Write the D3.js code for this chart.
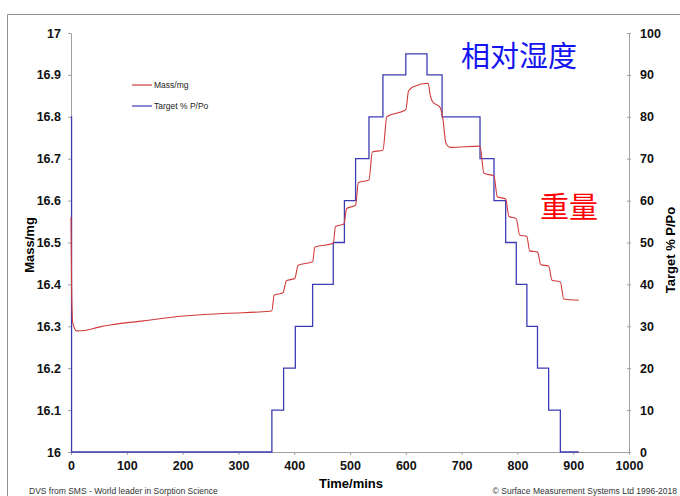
<!DOCTYPE html>
<html>
<head>
<meta charset="utf-8">
<script src="https://cdn.jsdelivr.net/npm/d3@7"></script>
<style>
  body { margin: 0; background: #fff; }
  svg { display: block; }
  .tick text { font-family: "Liberation Sans", Arial, sans-serif; font-weight: bold; font-size: 12.5px; fill: #111; }
  .axis path, .axis line { stroke: #a0a0a0; }
</style>
</head>
<body>
<div id="chart"></div>
<script>
// mass reading, mg (time in minutes)
var massTimes = [0, 1, 3, 10, 25, 50, 70, 130, 195, 280, 356, 360, 364, 380, 386, 401, 407, 433, 437, 470, 474, 489, 494, 510, 515, 534, 540, 559, 566, 600, 605, 614, 640, 644, 648, 661, 666, 672, 680, 733, 740, 758, 764, 779, 785, 798, 804, 817, 822, 836, 842, 856, 862, 877, 883, 910];
var massValues = [16.56, 16.40, 16.31, 16.289, 16.290, 16.298, 16.303, 16.313, 16.324, 16.331, 16.336, 16.337, 16.374, 16.380, 16.409, 16.414, 16.446, 16.454, 16.489, 16.498, 16.538, 16.544, 16.581, 16.589, 16.643, 16.649, 16.716, 16.720, 16.800, 16.817, 16.862, 16.872, 16.880, 16.850, 16.836, 16.823, 16.800, 16.737, 16.727, 16.730, 16.665, 16.659, 16.609, 16.604, 16.562, 16.557, 16.518, 16.514, 16.480, 16.477, 16.447, 16.444, 16.410, 16.406, 16.365, 16.362];

// target RH steps, % P/Po (value holds from each time to the next)
var rhTimes = [0, 1, 360, 381, 402, 433, 470, 490, 510, 534, 559, 600, 638, 665, 733, 758, 779, 798, 817, 836, 856, 877, 910];
var rhValues = [80, 0, 10, 20, 30, 40, 50, 60, 70, 80, 90, 95, 90, 80, 70, 60, 50, 40, 30, 20, 10, 0, 0];

var massTicks = [16, 16.1, 16.2, 16.3, 16.4, 16.5, 16.6, 16.7, 16.8, 16.9, 17];
var rhTicks = [0, 10, 20, 30, 40, 50, 60, 70, 80, 90, 100];
var timeTicks = [0, 100, 200, 300, 400, 500, 600, 700, 800, 900, 1000];

var svgWidth = 680, svgHeight = 496;
var margin = { top: 33, bottom: 44, left: 71, right: 51 };
var width = svgWidth - margin.left - margin.right;
var height = svgHeight - margin.top - margin.bottom;

var svg = d3.select("#chart").append("svg")
    .attr("width", svgWidth)
    .attr("height", svgHeight);

// outer frame (cut off at right/bottom)
svg.append("path")
    .attr("d", "M7.5,496 V14.5 H680")
    .attr("fill", "none")
    .attr("stroke", "#909090")
    .attr("stroke-width", 1);

var chartGroup = svg.append("g")
    .attr("transform", `translate(${margin.left}, ${margin.top})`);

var x = d3.scaleLinear().domain([0, 1000]).range([0, width]);
var yMass = d3.scaleLinear().domain([16, 17]).range([height, 0]);
var yRh = d3.scaleLinear().domain([0, 100]).range([height, 0]);

chartGroup.append("g")
    .attr("class", "axis")
    .attr("transform", `translate(0, ${height})`)
    .call(d3.axisBottom(x).tickValues(timeTicks).tickSize(3).tickSizeOuter(0).tickPadding(6).tickFormat(d3.format("d")));

chartGroup.append("g")
    .attr("class", "axis")
    .call(d3.axisLeft(yMass).tickValues(massTicks).tickSize(3).tickSizeOuter(0).tickPadding(7).tickFormat(d => +d.toFixed(1)));

var rightAxis = chartGroup.append("g")
    .attr("class", "axis")
    .attr("transform", `translate(${width}, 0)`)
    .call(d3.axisRight(yRh).tickValues(rhTicks).tickSize(2).tickSizeOuter(0).tickPadding(9));
rightAxis.selectAll(".tick line").attr("x1", -2);

// series
var massData = massTimes.map((t, i) => ({ t: t, v: massValues[i] }));
var rhData = rhTimes.map((t, i) => ({ t: t, v: rhValues[i] }));

chartGroup.append("path")
    .datum(rhData)
    .attr("fill", "none")
    .attr("stroke", "#3c3cb4")
    .attr("stroke-width", 1.3)
    .attr("d", d3.line().x(d => x(d.t)).y(d => yRh(d.v)).curve(d3.curveStepAfter));

chartGroup.append("path")
    .datum(massData)
    .attr("fill", "none")
    .attr("stroke", "#d23a3a")
    .attr("stroke-width", 1.1)
    .attr("d", d3.line().x(d => x(d.t)).y(d => yMass(d.v)).curve(d3.curveMonotoneX));

// axis titles
var titleFont = '"Liberation Sans", Arial, sans-serif';
svg.append("text")
    .attr("transform", "translate(34, 245) rotate(-90)")
    .attr("text-anchor", "middle")
    .style("font-family", titleFont).style("font-weight", "bold").style("font-size", "13px")
    .text("Mass/mg");

svg.append("text")
    .attr("transform", "translate(675, 250) rotate(-90)")
    .attr("text-anchor", "middle")
    .style("font-family", titleFont).style("font-weight", "bold").style("font-size", "13px")
    .text("Target % P/Po");

svg.append("text")
    .attr("x", 351).attr("y", 488)
    .attr("text-anchor", "middle")
    .style("font-family", titleFont).style("font-weight", "bold").style("font-size", "13px")
    .text("Time/mins");

// legend
var legend = [{ name: "Mass/mg", color: "#d23a3a", y: 85 }, { name: "Target % P/Po", color: "#3c3cb4", y: 106 }];
legend.forEach(function (l) {
    svg.append("line")
        .attr("x1", 132).attr("x2", 152).attr("y1", l.y).attr("y2", l.y)
        .attr("stroke", l.color).attr("stroke-width", 1.2);
    svg.append("text")
        .attr("x", 154).attr("y", l.y + 3)
        .style("font-family", titleFont).style("font-size", "8.5px").style("fill", "#222")
        .text(l.name);
});

// annotations
svg.append("text")
    .attr("x", 461).attr("y", 54)
    .attr("dominant-baseline", "central")
    .style("font-family", '"Noto Sans CJK SC", sans-serif').style("font-size", "29px").style("fill", "#1414f0")
    .text("相对湿度");

svg.append("text")
    .attr("x", 540).attr("y", 205)
    .attr("dominant-baseline", "central")
    .style("font-family", '"Noto Sans CJK SC", sans-serif').style("font-size", "29px").style("fill", "#ff0000")
    .text("重量");

// footer
svg.append("text")
    .attr("x", 29).attr("y", 494)
    .style("font-family", titleFont).style("font-size", "8.5px").style("fill", "#333")
    .text("DVS from SMS - World leader in Sorption Science");

svg.append("text")
    .attr("x", 677).attr("y", 494)
    .attr("text-anchor", "end")
    .style("font-family", titleFont).style("font-size", "8.5px").style("fill", "#333")
    .text("© Surface Measurement Systems Ltd 1996-2018");
</script>
</body>
</html>
